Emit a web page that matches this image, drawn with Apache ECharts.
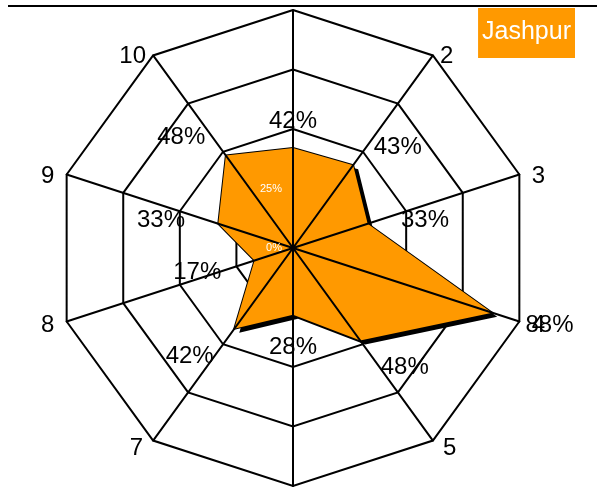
<!DOCTYPE html>
<html>
<head>
<meta charset="utf-8">
<script src="https://cdn.jsdelivr.net/npm/echarts@6/dist/echarts.min.js"></script>
<style>html,body{margin:0;padding:0;background:#fff}#c{width:597px;height:490px}</style>
</head>
<body>
<div id="c"></div>
<script>
// Data
var categories = ['1','2','3','4','5','6','7','8','9','10'];
var values = [42, 43, 33, 88, 48, 28, 42, 17, 33, 48];
var seriesName = 'Jashpur';
var axisTicks = [0, 25, 50, 75, 100];

var FONT = 'Liberation Sans, Arial, sans-serif';
var ORANGE = '#FF9900';
var CENTER = [293, 248];
var RADIUS = 238;
var MAXV = axisTicks[axisTicks.length - 1];

// ECharts radar runs counter-clockwise; reorder so that categories run clockwise
var order = categories.map(function (c, i) { return i === 0 ? 0 : categories.length - i; });
var indicators = order.map(function (i) { return { name: categories[i], min: 0, max: MAXV }; });
var radarValues = order.map(function (i) { return values[i]; });

function dir(i) {
  var th = i * 2 * Math.PI / categories.length;
  return { s: Math.sin(th), c: Math.cos(th), v: Math.abs(Math.sin(th)) < 0.01 };
}
function alignOf(d) { return d.v ? 'center' : (d.s > 0 ? 'left' : 'right'); }

// percentage labels placed around each data point via the polar scale
var labelData = values.map(function (v, i) {
  var d = dir(i);
  var dy = -30 * d.c + ((d.c > 0.01 && !d.v) ? 6 : 3);
  return { value: [v, categories[i]], label: { align: alignOf(d), offset: [35 * d.s, dy] } };
});
// category names at the outer ring
var nameData = categories.map(function (n, i) {
  var d = dir(i);
  var off;
  if (d.v) off = [0, -30 * d.c];
  else if (d.c < -0.5) off = [17 * d.s, 3 - 6 * d.c];
  else if (d.c < 0.5) off = [13 * d.s, 3 - 2 * d.c];
  else off = [12 * d.s, 3 - 2 * d.c];
  return { value: [MAXV, n], label: { align: alignOf(d), offset: off } };
});

var textLabel = {
  show: true, position: [0, 0], verticalAlign: 'middle',
  color: '#000', fontSize: 24, fontFamily: FONT, textBorderWidth: 0, opacity: 1
};

var chart = echarts.init(document.getElementById('c'), null, { renderer: 'canvas' });
chart.setOption({
  animation: false,
  title: {
    text: seriesName,
    right: 22, top: 8,
    backgroundColor: ORANGE,
    padding: [12, 4, 13, 4],
    textStyle: { color: '#fff', fontSize: 25, fontWeight: 'normal', fontFamily: FONT }
  },
  graphic: [{
    type: 'line', z: 100,
    shape: { x1: 8, y1: 6, x2: 597, y2: 6 },
    style: { stroke: '#000', lineWidth: 2 }
  }],
  radar: [{
    center: CENTER, radius: RADIUS, shape: 'polygon', splitNumber: 4, z: 0,
    indicator: indicators,
    axisName: { show: false },
    axisLine: { show: false },
    axisTick: { show: false },
    splitArea: { show: false },
    splitLine: { lineStyle: { color: '#000', width: 2 } }
  }, {
    center: CENTER, radius: RADIUS, shape: 'polygon', splitNumber: 4, z: 5,
    indicator: indicators,
    axisName: { show: false },
    axisLine: { lineStyle: { color: '#000', width: 2 } },
    axisTick: { show: false },
    splitArea: { show: false },
    splitLine: { show: false }
  }],
  polar: { center: CENTER, radius: RADIUS },
  angleAxis: {
    type: 'category', data: categories, startAngle: 90, clockwise: true, boundaryGap: false,
    axisLine: { show: false }, axisTick: { show: false }, axisLabel: { show: false }, splitLine: { show: false }
  },
  radiusAxis: {
    type: 'value', min: axisTicks[0], max: MAXV, interval: 25, z: 10,
    axisLine: { show: false }, axisTick: { show: false }, splitLine: { show: false },
    axisLabel: {
      color: '#fff', fontSize: 11, fontFamily: FONT, margin: 11,
      // white tick labels only show where they lie on the filled area of the first axis
      formatter: function (v) { return v < values[0] ? v + '%' : ''; }
    }
  },
  series: [{
    type: 'radar', radarIndex: 0, name: seriesName, z: 2,
    symbol: 'none',
    lineStyle: { color: '#000', width: 2 },
    areaStyle: { color: ORANGE, opacity: 1, shadowColor: '#000', shadowOffsetX: 5, shadowOffsetY: 4, shadowBlur: 0 },
    data: [{ value: radarValues, name: seriesName }]
  }, {
    type: 'scatter', coordinateSystem: 'polar', z: 20,
    symbolSize: 0, silent: true,
    itemStyle: { color: '#000', opacity: 1 },
    label: Object.assign({}, textLabel, { formatter: function (p) { return p.value[0] + '%'; } }),
    data: labelData
  }, {
    type: 'scatter', coordinateSystem: 'polar', z: 20,
    symbolSize: 0, silent: true,
    itemStyle: { color: '#000', opacity: 1 },
    label: Object.assign({}, textLabel, { formatter: function (p) { return p.value[1]; } }),
    data: nameData
  }]
});
</script>
</body>
</html>
